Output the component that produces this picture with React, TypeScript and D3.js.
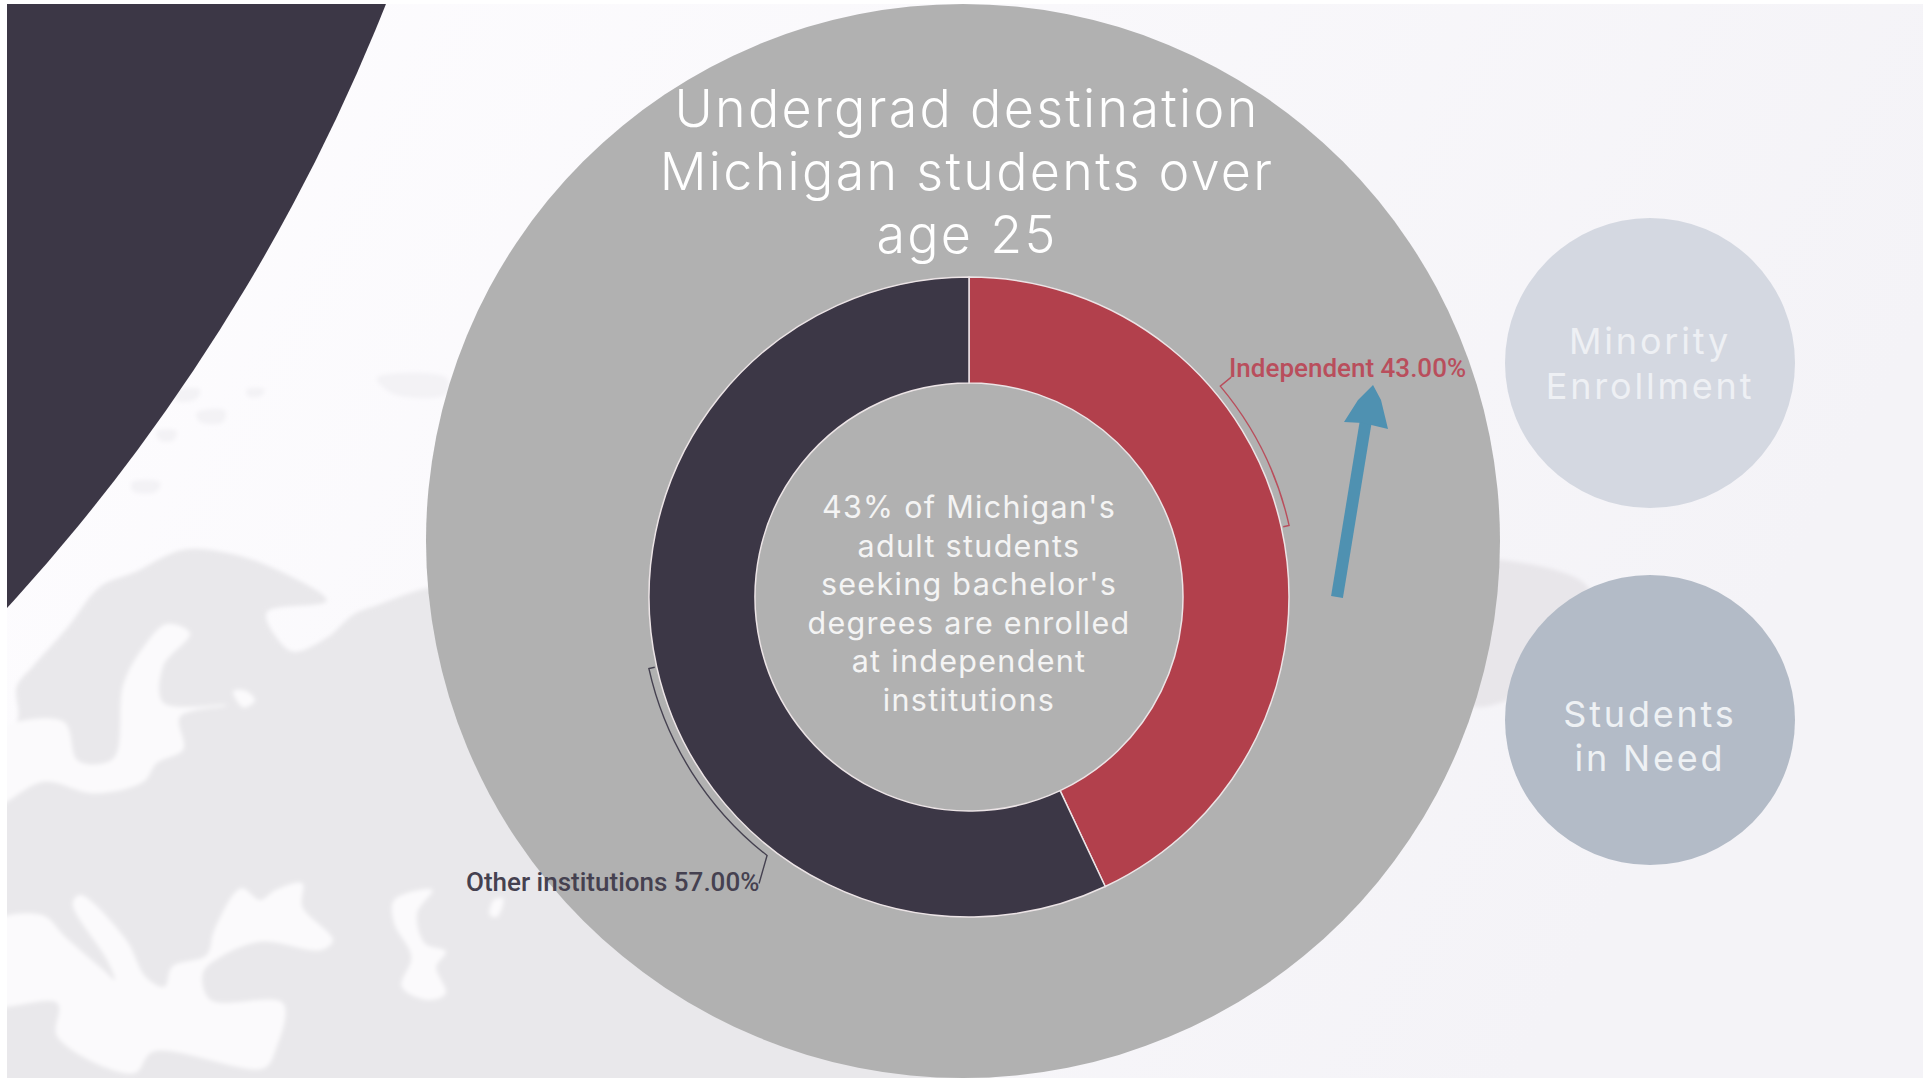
import * as d3 from "d3";

const categories = ["Independent", "Other institutions"];
const shares = [43, 57];
const sliceColors = ["#b2404c", "#3c3746"];
const labelColors = ["#b94e5c", "#454150"];
const leaderEndDegrees = [50, 218];
const leaderTipOffsets: [number, number][] = [[11, -9], [-8, 28]];

const titleLines = ["Undergrad destination", "Michigan students over", "age 25"];
const titleBaselines = [127, 190, 253];
const noteLines = [
  "43% of Michigan's",
  "adult students",
  "seeking bachelor's",
  "degrees are enrolled",
  "at independent",
  "institutions",
];
const sideTopLines = ["Minority", "Enrollment"];
const sideBottomLines = ["Students", "in Need"];

const landOutline: [number, number][] = [
  [-60, 985], [-60, 840], [50, 800], [50, 725], [100, 680], [200, 600], [300, 510], [400, 480], [550, 430],
  [700, 440], [850, 480], [980, 540], [800, 565], [830, 620], [880, 650], [980, 620], [1060, 570], [1130, 550],
  [1300, 510], [1600, 500], [2600, 500], [2880, 700], [2880, 1700], [1500, 1700], [-60, 1700],
];
const northSea: [number, number][] = [
  [-30, 830], [190, 800], [235, 885], [340, 880], [370, 720], [430, 640], [500, 590], [570, 610],
  [490, 680], [490, 760], [680, 765], [540, 790], [550, 860], [470, 890], [430, 930], [280, 955],
  [130, 930], [-30, 985],
];
const whiteSpot: [number, number][] = [[700, 735], [740, 735], [765, 755], [730, 770]];
const islands: [number, number][][] = [
  [[1130, 60], [1340, 60], [1340, 95], [1180, 95]],
  [[520, 90], [600, 85], [590, 105], [530, 110]],
  [[740, 85], [795, 85], [780, 100], [745, 100]],
  [[470, 175], [530, 175], [520, 195], [480, 195]],
  [[590, 135], [675, 130], [670, 155], [600, 155]],
  [[395, 285], [480, 285], [470, 305], [400, 305]],
];
const eastLand: [number, number][] = [
  [4400, 455], [4500, 452], [4755, 504], [4800, 600], [4500, 760], [4400, 760],
];

const midSea: [number, number][] = [
  [-30, 135], [110, 105], [170, 170], [270, 270], [300, 300], [280, 240], [190, 70], [210, 45], [330, 180],
  [380, 290], [430, 320], [450, 260], [540, 225], [560, 150], [630, 25], [680, 60], [720, 30], [790, 10],
  [790, 80], [870, 180], [840, 210], [680, 185], [570, 235], [530, 280], [550, 360], [740, 370], [720, 510],
  [690, 565], [400, 515], [350, 580], [150, 470], [150, 370], [-30, 370],
];
const eastSea: [number, number][] = [
  [1030, 60], [1130, 30], [1090, 100], [1110, 190], [1165, 215], [1140, 260], [1165, 340], [1120, 360],
  [1050, 320], [1075, 230], [1030, 130],
];
const smallSpot: [number, number][] = [[1290, 60], [1315, 55], [1300, 110], [1280, 105]];

const cropX = d3.scaleLinear().domain([0, 1500]).range([0, 500]);
const cropY = d3.scaleLinear().domain([0, 1568]).range([350, 1078]);
const lowerX = d3.scaleLinear().domain([0, 1568]).range([0, 600]);
const lowerY = d3.scaleLinear().domain([0, 594]).range([880, 1078]);

const blob = d3.line<[number, number]>()
  .x((d) => cropX(d[0]))
  .y((d) => cropY(d[1]))
  .curve(d3.curveCatmullRomClosed.alpha(0.5));
const lowerBlob = d3.line<[number, number]>()
  .x((d) => lowerX(d[0]))
  .y((d) => lowerY(d[1]))
  .curve(d3.curveCatmullRomClosed.alpha(0.5));

const ringCx = 969;
const ringCy = 597;
const ringOuter = 320;
const ringInner = 214;
const leaderR = 328;

const pieData = d3.pie<number>().sort(null)(shares);
const sliceArc = d3.arc<d3.PieArcDatum<number>>().innerRadius(ringInner).outerRadius(ringOuter);

const polar = (deg: number, r: number): [number, number] => {
  const a = (deg * Math.PI) / 180;
  return [r * Math.sin(a), -r * Math.cos(a)];
};

function leaderPath(slice: d3.PieArcDatum<number>, i: number) {
  const mid = (((slice.startAngle + slice.endAngle) / 2) * 180) / Math.PI;
  const end = leaderEndDegrees[i];
  const path = d3.path();
  path.moveTo(...polar(mid, ringOuter + 2));
  path.lineTo(...polar(mid, leaderR));
  const a0 = ((mid - 90) * Math.PI) / 180;
  const a1 = ((end - 90) * Math.PI) / 180;
  path.arc(0, 0, leaderR, a0, a1, end < mid);
  const [ex, ey] = polar(end, leaderR);
  path.lineTo(ex + leaderTipOffsets[i][0], ey + leaderTipOffsets[i][1]);
  return path.toString();
}

const arrowShaft = d3.line()([[1337, 597], [1366, 420]]) as string;
const arrowHead = d3.line().curve(d3.curveLinear)([
  [1373, 385], [1381, 400], [1388, 429], [1363, 423], [1344, 422], [1358, 400],
]) as string;

const bodyFont = "Inter, sans-serif";

export default function App() {
  return (
    <svg
      width={1923}
      height={1078}
      viewBox="0 0 1923 1078"
      style={{ position: "absolute", left: 0, top: 0, background: "#ffffff" }}
    >
      <defs>
        <linearGradient id="pageBg" x1="0" y1="0" x2="1" y2="0.3">
          <stop offset="0%" stopColor="#fefdff" />
          <stop offset="100%" stopColor="#f4f3f7" />
        </linearGradient>
        <filter id="soft" x="-5%" y="-5%" width="110%" height="110%">
          <feGaussianBlur stdDeviation="2" />
        </filter>
        <clipPath id="page">
          <rect x={7} y={4} width={1916} height={1074} />
        </clipPath>
      </defs>

      <g clipPath="url(#page)">
        <rect x={7} y={4} width={1916} height={1074} fill="url(#pageBg)" />
        <g filter="url(#soft)">
          <path d={blob(landOutline) as string} fill="#e9e8eb" />
          <path d={blob(northSea) as string} fill="#fbfafc" />
          <path d={blob(whiteSpot) as string} fill="#fbfafc" />
          {[midSea, eastSea, smallSpot].map((s, i) => (
            <path key={i} d={lowerBlob(s) as string} fill="#fbfafc" />
          ))}
          {islands.map((s, i) => (
            <path key={i} d={blob(s) as string} fill="#f3f2f5" />
          ))}
          <path d={blob(eastLand) as string} fill="#e8e6ea" />
        </g>
        <circle cx={-1446} cy={-724.5} r={1971.5} fill="#3c3746" />
      </g>

      <circle cx={963} cy={541} r={537} fill="#b1b1b1" />

      <g fontFamily={bodyFont} fontWeight={300} fontSize={52} fill="#ffffff" textAnchor="middle" letterSpacing={2.3}>
        {titleLines.map((t, i) => (
          <text key={t} x={967} y={titleBaselines[i]}>{t}</text>
        ))}
      </g>

      <g transform={`translate(${ringCx},${ringCy})`}>
        {pieData.map((d, i) => (
          <path key={categories[i]} d={sliceArc(d) as string} fill={sliceColors[i]} stroke="#ece4e6" strokeWidth={1.5} />
        ))}
        {pieData.map((d, i) => (
          <path key={i} d={leaderPath(d, i)} fill="none" stroke={labelColors[i]} strokeWidth={1.4} />
        ))}
      </g>

      <g fontFamily="Roboto, sans-serif" fontWeight={500} fontSize={26}>
        <text x={1229} y={377} fill={labelColors[0]}>{`${categories[0]} ${shares[0].toFixed(2)}%`}</text>
        <text x={466} y={891} fill={labelColors[1]}>{`${categories[1]} ${shares[1].toFixed(2)}%`}</text>
      </g>

      <path d={arrowShaft} fill="none" stroke="#4f91b1" strokeWidth={12} />
      <path d={arrowHead} fill="#4f91b1" />

      <g fontFamily={bodyFont} fontWeight={400} fontSize={30.5} fill="#f4f4f4" textAnchor="middle" letterSpacing={1.3}>
        {noteLines.map((t, i) => (
          <text key={t} x={ringCx} y={518 + i * 38.5}>{t}</text>
        ))}
      </g>

      <circle cx={1650} cy={363} r={145} fill="#d4d8e1" />
      <circle cx={1650} cy={720} r={145} fill="#b3bbc7" />
      <g fontFamily={bodyFont} fontWeight={400} fontSize={36} textAnchor="middle" letterSpacing={2.8}>
        {sideTopLines.map((t, i) => (
          <text key={t} x={1650} y={354 + i * 45} fill="#eef0f4">{t}</text>
        ))}
        {sideBottomLines.map((t, i) => (
          <text key={t} x={1650} y={727 + i * 44} fill="#eef1f4">{t}</text>
        ))}
      </g>
    </svg>
  );
}
